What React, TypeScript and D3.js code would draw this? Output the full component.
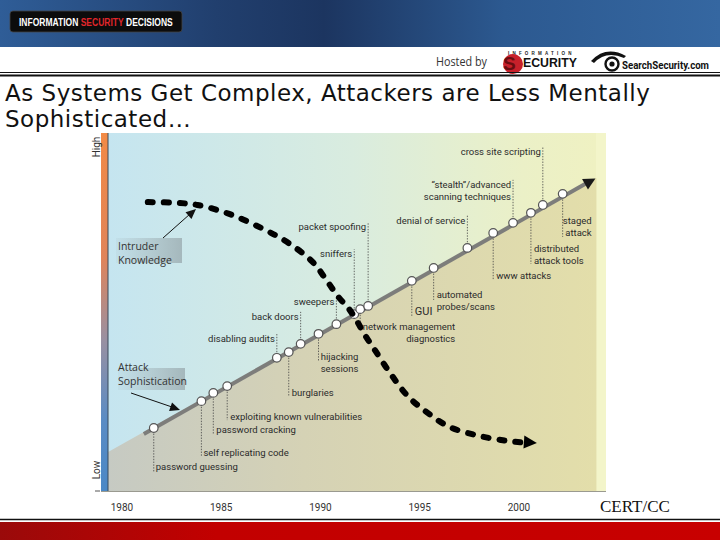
import React from 'react';
import * as d3 from 'd3';

// year ticks on the bottom
const YEAR_TICKS = [1980, 1985, 1990, 1995, 2000];

// attack sophistication milestones
const EVENT_NAMES = [
  'password guessing',
  'self replicating code',
  'password cracking',
  'exploiting known vulnerabilities',
  'disabling audits',
  'burglaries',
  'back doors',
  'hijacking sessions',
  'sweepers',
  'sniffers',
  'network management diagnostics',
  'packet spoofing',
  'GUI',
  'automated probes/scans',
  'denial of service',
  'www attacks',
  '“stealth”/advanced scanning techniques',
  'distributed attack tools',
  'cross site scripting',
  'staged attack',
];
const EVENT_YEARS = [1981.6, 1984.0, 1984.6, 1985.3, 1987.8, 1988.4, 1989.0, 1989.9, 1990.8, 1991.7, 1992.0, 1992.4, 1994.6, 1995.7, 1997.4, 1998.7, 1999.7, 2000.6, 2001.2, 2002.2];
const EVENT_LEVELS = [17.6, 25.1, 27.4, 29.3, 37.2, 38.8, 41.1, 43.9, 46.6, 49.4, 50.8, 51.7, 58.7, 62.3, 67.9, 72.1, 74.9, 77.7, 79.9, 83.0];

// attack sophistication trend line and the shaded area below it
const TREND_YEARS = [1981.1, 2003.7];
const TREND_LEVELS = [15.9, 86.9];
const AREA_YEARS = [1979.3, 2003.9];
const AREA_LEVELS = [10.9, 87.4];

// intruder knowledge (dashed curve)
const KNOWLEDGE_YEARS = [1981.3, 1982.7, 1983.8, 1985.4, 1987.0, 1988.3, 1989.6, 1990.3, 1990.9, 1991.4, 1991.8, 1992.2, 1992.7, 1993.5, 1994.4, 1995.4, 1996.5, 1998.0, 1999.4, 2000.9];
const KNOWLEDGE_LEVELS = [80.7, 80.5, 79.9, 77.4, 73.5, 69.6, 64.0, 58.9, 54.2, 51.1, 47.8, 43.9, 39.7, 33.0, 26.5, 21.8, 17.9, 15.4, 14.0, 13.4];

// label placement (px offsets from each milestone circle)
type Lay = { lines: string[]; anchor: 'start' | 'end' | 'middle'; dx: number; dy: number; leader: number };
const LAYOUT: Lay[] = [
  { lines: ['password guessing'], anchor: 'start', dx: 2, dy: 42, leader: 44 },
  { lines: ['self replicating code'], anchor: 'start', dx: 2, dy: 55, leader: 56 },
  { lines: ['password cracking'], anchor: 'start', dx: 3, dy: 40, leader: 41 },
  { lines: ['exploiting known vulnerabilities'], anchor: 'start', dx: 3, dy: 34, leader: 34 },
  { lines: ['disabling audits'], anchor: 'end', dx: -2, dy: -16, leader: -24 },
  { lines: ['burglaries'], anchor: 'start', dx: 3, dy: 44, leader: 44 },
  { lines: ['back doors'], anchor: 'end', dx: -2, dy: -24, leader: -32 },
  { lines: ['hijacking', 'sessions'], anchor: 'middle', dx: 21, dy: 26, leader: 28 },
  { lines: ['sweepers'], anchor: 'end', dx: -2, dy: -19, leader: -27 },
  { lines: ['sniffers'], anchor: 'end', dx: -2, dy: -57, leader: -65 },
  { lines: ['network management', 'diagnostics'], anchor: 'end', dx: 95, dy: 21, leader: 22 },
  { lines: ['packet spoofing'], anchor: 'end', dx: -2, dy: -76, leader: -84 },
  { lines: ['GUI'], anchor: 'start', dx: 3, dy: 34, leader: 35 },
  { lines: ['automated', 'probes/scans'], anchor: 'start', dx: 3, dy: 30, leader: 32 },
  { lines: ['denial of service'], anchor: 'end', dx: -2, dy: -24, leader: -33 },
  { lines: ['www attacks'], anchor: 'start', dx: 3, dy: 46, leader: 47 },
  { lines: ['“stealth”/advanced', 'scanning techniques'], anchor: 'end', dx: -2, dy: -35, leader: -43 },
  { lines: ['distributed', 'attack tools'], anchor: 'start', dx: 3, dy: 39, leader: 51 },
  { lines: ['cross site scripting'], anchor: 'end', dx: -2, dy: -50, leader: -58 },
  { lines: ['staged', 'attack'], anchor: 'end', dx: 29, dy: 30, leader: 43 },
];

const PLOT = { left: 108, right: 606, top: 133, bottom: 491, areaRight: 596 };

const x = d3.scaleLinear().domain([1980, 2000]).range([122, 519]);
const y = d3.scaleLinear().domain([0, 100]).range([PLOT.bottom, PLOT.top]);

const LABEL_FONT = 'Roboto, "Noto Sans", sans-serif';
const LOGO_FONT = '"Liberation Sans", Arial, sans-serif';
const TITLE_FONT = '"DejaVu Sans", Verdana, sans-serif';

function arrowHead(tx: number, ty: number, angle: number, len: number, half: number) {
  const c = Math.cos(angle), s = Math.sin(angle);
  const bx = tx - c * len, by = ty - s * len;
  return `M${tx},${ty}L${bx - s * half},${by + c * half}L${bx + s * half},${by - c * half}Z`;
}

export default function App() {
  const areaPts = AREA_YEARS.map((yr, i) => [yr, AREA_LEVELS[i]] as [number, number]);
  const area = d3.area<[number, number]>()
    .x(d => x(d[0]))
    .y0(PLOT.bottom)
    .y1(d => y(d[1]))(areaPts) || '';

  const trendPts = TREND_YEARS.map((yr, i) => [x(yr), y(TREND_LEVELS[i])] as [number, number]);
  const trendAngle = Math.atan2(trendPts[1][1] - trendPts[0][1], trendPts[1][0] - trendPts[0][0]);
  const tEnd = trendPts[1];
  const trendLine = d3.line()([trendPts[0], [tEnd[0] - Math.cos(trendAngle) * 8, tEnd[1] - Math.sin(trendAngle) * 8]]) || '';

  const kPts = KNOWLEDGE_YEARS.map((yr, i) => [x(yr), y(KNOWLEDGE_LEVELS[i])] as [number, number]);
  const kEnd = kPts[kPts.length - 1];
  const kPrev = kPts[kPts.length - 2];
  const kAngle = Math.atan2(kEnd[1] - kPrev[1], kEnd[0] - kPrev[0]);
  const kLine = d3.line().curve(d3.curveCatmullRom.alpha(0.5))(kPts.slice(0, -1).concat([[kEnd[0] - 9, kEnd[1]]])) || '';

  const events = EVENT_NAMES.map((name, i) => ({ name, cx: x(EVENT_YEARS[i]), cy: y(EVENT_LEVELS[i]), lay: LAYOUT[i] }));

  return (
    <div style={{ position: 'fixed', left: 0, top: 0, width: 720, height: 540, background: '#fff' }}>
      <svg width={720} height={540} style={{ display: 'block' }}>
        <defs>
          <linearGradient id="hdr" x1="0" x2="1" y1="0" y2="0">
            <stop offset="0" stopColor="#2f5d97" />
            <stop offset="0.3" stopColor="#213f6e" />
            <stop offset="0.45" stopColor="#1c3560" />
            <stop offset="0.7" stopColor="#2c5990" />
            <stop offset="1" stopColor="#3567a1" />
          </linearGradient>
          <linearGradient id="bg" x1="0" x2="1" y1="0" y2="0">
            <stop offset="0" stopColor="#c5e5f0" />
            <stop offset="0.5" stopColor="#d9ecdf" />
            <stop offset="0.85" stopColor="#ebf0c7" />
            <stop offset="1" stopColor="#eff1c2" />
          </linearGradient>
          <linearGradient id="area" x1="0" x2="1" y1="0" y2="0">
            <stop offset="0" stopColor="#c6cac3" />
            <stop offset="0.4" stopColor="#d5d2b5" />
            <stop offset="1" stopColor="#e3deaa" />
          </linearGradient>
          <linearGradient id="lvl" x1="0" x2="0" y1="0" y2="1">
            <stop offset="0" stopColor="#f28a45" />
            <stop offset="0.35" stopColor="#e0845a" />
            <stop offset="0.58" stopColor="#9890a2" />
            <stop offset="0.8" stopColor="#5a8cc4" />
            <stop offset="1" stopColor="#4a88c6" />
          </linearGradient>
          <linearGradient id="box" x1="0" x2="1" y1="0" y2="0">
            <stop offset="0" stopColor="#9aa9ae" stopOpacity="0.1" />
            <stop offset="1" stopColor="#98a8ad" stopOpacity="0.75" />
          </linearGradient>
          <linearGradient id="foot" x1="0" x2="1" y1="0" y2="0">
            <stop offset="0" stopColor="#9a0a0a" />
            <stop offset="0.3" stopColor="#c20000" />
            <stop offset="1" stopColor="#c80000" />
          </linearGradient>
        </defs>

        {/* header */}
        <rect x={0} y={0} width={720} height={47} fill="url(#hdr)" />
        <rect x={10} y={11} width={172} height={21} rx={3} fill="#0c0c0c" stroke="#444" strokeWidth={0.8} />
        <g transform="translate(19,26) scale(0.81,1)">
          <text x={0} y={0} fontFamily={LOGO_FONT} fontWeight="bold" fontSize={10.5} fill="#fff">
            INFORMATION <tspan fill="#e0262b">SECURITY</tspan> DECISIONS
          </text>
        </g>
        <text x={436} y={66} fontFamily='"Open Sans", sans-serif' fontSize={12} fill="#333" textLength={51} lengthAdjust="spacingAndGlyphs">Hosted by</text>
        <text x={508} y={55} fontFamily={LOGO_FONT} fontWeight="bold" fontSize={4.5} letterSpacing={3.2} fill="#222">INFORMATION</text>
        <circle cx={513} cy={64} r={10} fill="#c8202a" />
        <text x={503} y={70} fontFamily={LOGO_FONT} fontWeight="bold" fontSize={19} fill="#6a0d10">S</text>
        <text x={523} y={67} fontFamily={LOGO_FONT} fontWeight="bold" fontSize={12} fill="#111" textLength={54} lengthAdjust="spacingAndGlyphs">ECURITY</text>
        <path d="M591,61 Q606,45 626,56 L624,58 Q606,50 594,63 Z" fill="#111" />
        <circle cx={612} cy={64} r={6.5} fill="#fff" stroke="#111" strokeWidth={2.4} />
        <circle cx={612} cy={64} r={2.6} fill="#111" />
        <text x={622} y={69} fontFamily={`Roboto, ${LOGO_FONT}`} fontWeight="bold" fontSize={10} fill="#111" textLength={87} lengthAdjust="spacingAndGlyphs">SearchSecurity.com</text>
        <line x1={0} x2={720} y1={72.5} y2={72.5} stroke="#111" strokeWidth={1} />
        <line x1={0} x2={720} y1={75.5} y2={75.5} stroke="#111" strokeWidth={2} />

        {/* title */}
        <text x={5} y={101} fontFamily={TITLE_FONT} fontSize={23} letterSpacing={0.5} fill="#111">As Systems Get Complex, Attackers are Less Mentally</text>
        <text x={5} y={127} fontFamily={TITLE_FONT} fontSize={23} letterSpacing={0.5} fill="#111">Sophisticated…</text>

        {/* plot background */}
        <rect x={PLOT.left} y={PLOT.top} width={PLOT.areaRight - PLOT.left} height={PLOT.bottom - PLOT.top} fill="url(#bg)" />
        <rect x={PLOT.areaRight} y={PLOT.top} width={PLOT.right - PLOT.areaRight} height={PLOT.bottom - PLOT.top} fill="#f3f5ca" />
        <path d={area} fill="url(#area)" />
        <rect x={101} y={PLOT.top} width={7} height={PLOT.bottom - PLOT.top} fill="url(#lvl)" />
        <line x1={108} x2={108} y1={PLOT.top} y2={PLOT.bottom} stroke="#3a4a5a" strokeWidth={1} />
        <line x1={101} x2={PLOT.right} y1={PLOT.bottom + 0.5} y2={PLOT.bottom + 0.5} stroke="#9a9a90" strokeWidth={1} />
        <line x1={95} x2={100} y1={PLOT.bottom} y2={PLOT.bottom} stroke="#555" strokeWidth={1} />
        <text transform={`translate(100,147) rotate(-90)`} textAnchor="middle" fontFamily={LABEL_FONT} fontSize={10} fill="#333">High</text>
        <text transform={`translate(100,470) rotate(-90)`} textAnchor="middle" fontFamily={LABEL_FONT} fontSize={10} fill="#333">Low</text>

        {/* trend line */}
        <path d={trendLine} stroke="#7d7d7b" strokeWidth={4} fill="none" />
        <path d={arrowHead(tEnd[0] + 3, tEnd[1] - 1.5, trendAngle, 12, 6)} fill="#1a1a1a" />

        {/* leaders and labels */}
        {events.map((e, i) => (
          <g key={i}>
            <line x1={e.cx} x2={e.cx} y1={e.cy} y2={e.cy + e.lay.leader} stroke="#444" strokeWidth={0.8} strokeDasharray="1.4 1.4" />
            {e.lay.lines.map((ln, j) => (
              <text key={j} x={e.cx + e.lay.dx} y={e.cy + e.lay.dy + j * 12} textAnchor={e.lay.anchor}
                fontFamily={LABEL_FONT} fontSize={ln === 'GUI' ? 11 : 9.5} fill="#2b2b2b">{ln}</text>
            ))}
          </g>
        ))}
        {events.map((e, i) => (
          <circle key={i} cx={e.cx} cy={e.cy} r={4.3} fill="#fff" stroke="#555" strokeWidth={1.2} />
        ))}

        {/* intruder knowledge curve */}
        <path d={kLine} fill="none" stroke="#000" strokeWidth={6} strokeDasharray="5 11" strokeLinecap="round" />
        <path d={arrowHead(kEnd[0], kEnd[1], kAngle, 13, 6.5)} fill="#000" />

        {/* annotation boxes */}
        <rect x={116} y={238} width={66} height={25} fill="url(#box)" />
        <text x={118} y={250} fontFamily='"Open Sans", sans-serif' fontSize={10.5} fill="#333">Intruder</text>
        <text x={118} y={264} fontFamily='"Open Sans", sans-serif' fontSize={10.5} fill="#333">Knowledge</text>
        <line x1={163} y1={238} x2={190} y2={214} stroke="#111" strokeWidth={1} />
        <path d={arrowHead(196, 209, Math.atan2(209 - 238, 196 - 163), 10, 4.5)} fill="#111" />

        <rect x={118} y={368} width={67} height={22} fill="url(#box)" />
        <text x={118} y={371} fontFamily='"Open Sans", sans-serif' fontSize={10.5} fill="#333">Attack</text>
        <text x={118} y={385} fontFamily='"Open Sans", sans-serif' fontSize={10.5} fill="#333">Sophistication</text>
        <line x1={131} y1={393} x2={172} y2={407} stroke="#111" strokeWidth={1} />
        <path d={arrowHead(180, 410, Math.atan2(410 - 393, 180 - 131), 10, 4.5)} fill="#111" />

        {/* x axis labels */}
        {YEAR_TICKS.map(t => (
          <text key={t} x={x(t)} y={511} textAnchor="middle" fontFamily={LABEL_FONT} fontSize={10} fill="#333">{t}</text>
        ))}
        <text x={600} y={512} fontFamily='"Liberation Serif", "Times New Roman", serif' fontSize={17} fill="#111">CERT/CC</text>

        {/* footer */}
        <line x1={0} x2={720} y1={519.5} y2={519.5} stroke="#111" strokeWidth={1.5} />
        <rect x={0} y={522} width={720} height={18} fill="url(#foot)" />
      </svg>
    </div>
  );
}
